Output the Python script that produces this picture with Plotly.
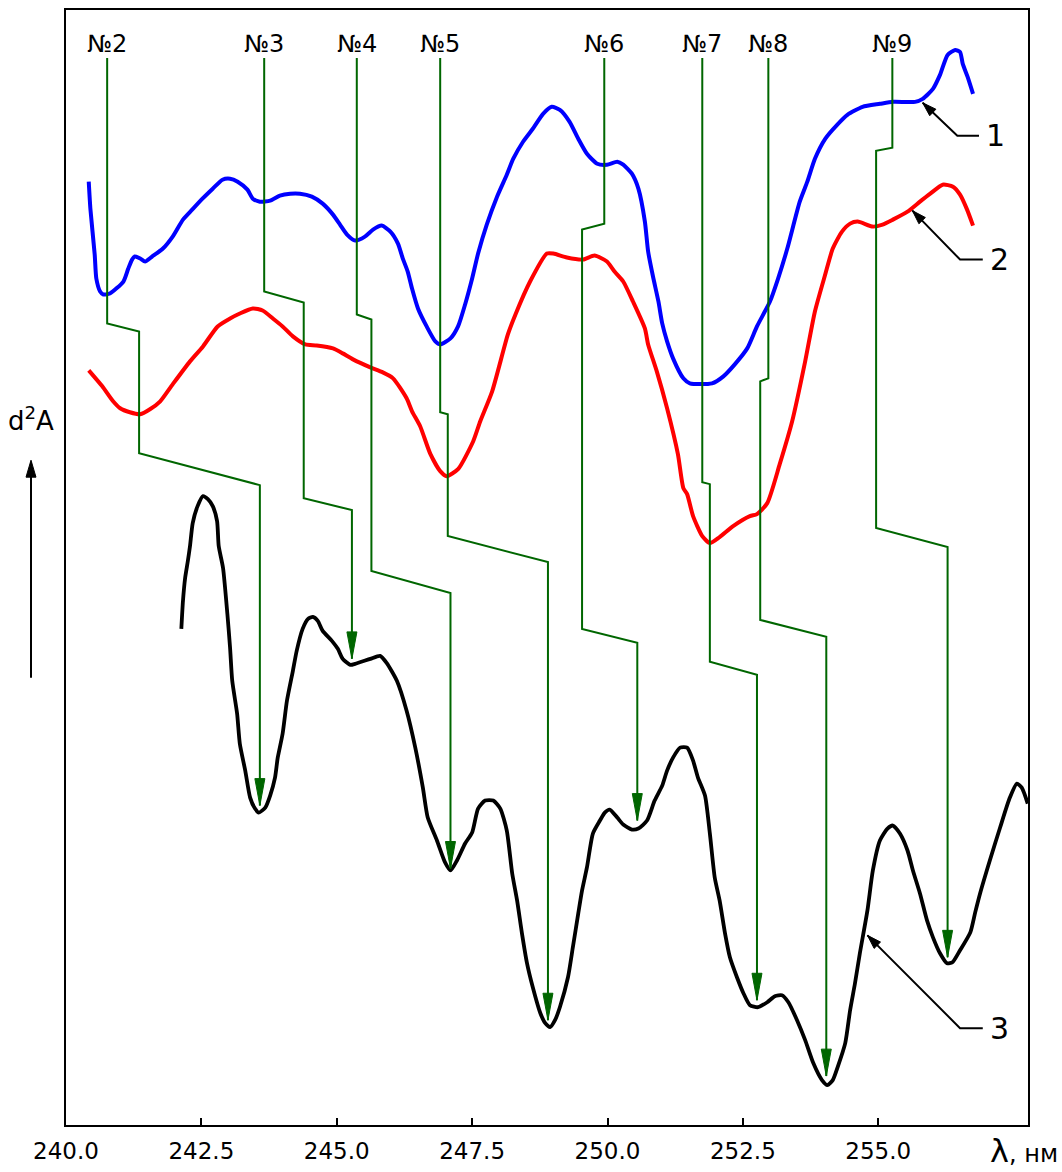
import plotly.graph_objects as go

# Axis extents: wavelength in nm, second derivative d2A in arbitrary units
X_MIN, X_MAX = 240.0, 257.765
Y_MIN, Y_MAX = 0, 1117

TICK_VALUES = [240.0, 242.5, 245.0, 247.5, 250.0, 252.5, 255.0]
TICK_LABELS = ["240.0", "242.5", "245.0", "247.5", "250.0", "252.5", "255.0"]

# Curve 1 (blue)
curve1_wl = [240.42, 240.45, 240.53, 240.56, 240.63, 240.69, 240.81, 241.06, 241.15, 241.22,
             241.27, 241.37, 241.46, 241.59, 241.79, 241.97, 242.16, 242.33, 242.52, 242.71,
             242.89, 243.03, 243.17, 243.35, 243.45, 243.58, 243.77, 243.95, 244.14, 244.32,
             244.54, 244.74, 244.93, 245.06, 245.19, 245.34, 245.52, 245.67, 245.83, 245.99,
             246.13, 246.22, 246.31, 246.39, 246.50, 246.66, 246.82, 246.91, 247.10, 247.24,
             247.37, 247.50, 247.61, 247.77, 247.96, 248.14, 248.26, 248.44, 248.62, 248.81,
             248.97, 249.12, 249.30, 249.46, 249.62, 249.81, 249.99, 250.18, 250.29, 250.45,
             250.57, 250.69, 250.75, 250.84, 250.94, 251.01, 251.10, 251.21, 251.40, 251.52,
             251.93, 252.14, 252.35, 252.58, 252.76, 253.00, 253.15, 253.32, 253.55, 253.69,
             253.83, 254.02, 254.24, 254.43, 254.71, 255.03, 255.27, 255.68, 255.82, 256.01,
             256.14, 256.28, 256.42, 256.51, 256.56, 256.65, 256.75]
curve1_d2a = [945, 918, 872, 848, 835, 832, 833, 845, 858, 867,
              870, 868, 865, 870, 878, 890, 907, 917, 928, 938,
              947, 948, 945, 937, 928, 925, 926, 931, 933, 933,
              930, 923, 912, 902, 892, 886, 890, 897, 901, 895,
              883, 868, 855, 838, 818, 800, 785, 782, 788, 800,
              822, 848, 873, 902, 930, 952, 968, 985, 998, 1013,
              1020, 1017, 1005, 988, 973, 963, 962, 965, 962, 953,
              938, 905, 875, 850, 825, 803, 785, 768, 748, 743,
              743, 750, 762, 778, 800, 825, 848, 878, 925, 945,
              968, 988, 1002, 1012, 1020, 1023, 1025, 1025, 1028, 1038,
              1052, 1072, 1077, 1075, 1063, 1050, 1033]

# Curve 2 (red)
curve2_wl = [240.42, 240.67, 240.87, 241.00, 241.18, 241.37, 241.55, 241.74, 241.97, 242.29,
             242.53, 242.80, 243.03, 243.21, 243.45, 243.63, 243.82, 244.00, 244.19, 244.42,
             244.63, 244.93, 245.11, 245.30, 245.62, 245.85, 246.04, 246.29, 246.39, 246.54,
             246.73, 246.91, 247.03, 247.24, 247.52, 247.65, 247.87, 248.16, 248.30, 248.57,
             248.88, 249.00, 249.25, 249.55, 249.76, 249.99, 250.13, 250.29, 250.47, 250.69,
             250.75, 250.91, 251.10, 251.30, 251.40, 251.47, 251.58, 251.75, 251.89, 252.07,
             252.32, 252.63, 252.76, 252.95, 253.18, 253.41, 253.65, 253.83, 254.02, 254.16,
             254.33, 254.48, 254.62, 254.90, 255.08, 255.27, 255.54, 255.77, 255.96, 256.19,
             256.38, 256.51, 256.64, 256.75]
curve2_d2a = [756, 740, 725, 718, 714, 712, 717, 725, 742, 765,
              780, 800, 808, 813, 818, 816, 808, 800, 790, 782,
              781, 778, 773, 767, 759, 754, 748, 728, 715, 700,
              672, 655, 650, 657, 685, 705, 735, 792, 812, 845,
              873, 873, 869, 867, 871, 865, 855, 845, 825, 798,
              782, 755, 718, 672, 638, 632, 610, 590, 583, 589,
              600, 610, 612, 623, 662, 705, 765, 815, 852, 878,
              895, 903, 905, 900, 902, 907, 915, 925, 933, 942,
              940, 932, 917, 901]

# Curve 3 (black)
curve3_wl = [242.13, 242.16, 242.20, 242.25, 242.29, 242.34, 242.43, 242.53, 242.62, 242.71,
             242.79, 242.82, 242.90, 242.98, 243.03, 243.07, 243.16, 243.21, 243.31, 243.40,
             243.49, 243.56, 243.68, 243.77, 243.86, 243.91, 244.00, 244.08, 244.19, 244.26,
             244.37, 244.47, 244.56, 244.65, 244.74, 244.91, 245.02, 245.11, 245.25, 245.34,
             245.62, 245.80, 245.92, 246.11, 246.29, 246.45, 246.59, 246.68, 246.85, 247.00,
             247.10, 247.22, 247.37, 247.50, 247.61, 247.74, 247.89, 248.02, 248.14, 248.24,
             248.33, 248.42, 248.51, 248.62, 248.76, 248.85, 248.94, 249.03, 249.12, 249.27,
             249.36, 249.46, 249.53, 249.62, 249.73, 249.86, 249.95, 250.04, 250.18, 250.29,
             250.45, 250.57, 250.73, 250.87, 251.01, 251.10, 251.21, 251.34, 251.47, 251.58,
             251.67, 251.80, 251.89, 251.98, 252.07, 252.17, 252.26, 252.39, 252.51, 252.63,
             252.78, 252.95, 253.09, 253.22, 253.34, 253.50, 253.65, 253.80, 253.96, 254.06,
             254.16, 254.25, 254.39, 254.48, 254.57, 254.66, 254.80, 254.90, 255.03, 255.17,
             255.27, 255.40, 255.54, 255.64, 255.77, 255.90, 256.01, 256.14, 256.27, 256.37,
             256.51, 256.70, 256.79, 256.88, 257.06, 257.25, 257.43, 257.56, 257.65, 257.76]
curve3_d2a = [497, 525, 548, 565, 580, 603, 620, 630, 627, 620,
              605, 580, 558, 512, 478, 445, 412, 382, 355, 328,
              317, 313, 318, 330, 348, 368, 392, 425, 455, 475,
              497, 507, 509, 505, 495, 485, 477, 467, 461, 462,
              467, 470, 463, 445, 415, 378, 338, 308, 285, 263,
              255, 265, 282, 293, 317, 325, 325, 317, 295, 252,
              225, 192, 163, 138, 112, 102, 98, 105, 118, 148,
              178, 212, 235, 258, 292, 305, 313, 316, 308, 301,
              296, 297, 305, 325, 340, 355, 368, 378, 378, 365,
              348, 330, 292, 248, 225, 192, 168, 148, 132, 120,
              118, 123, 129, 130, 123, 105, 85, 62, 45, 40,
              45, 58, 82, 115, 142, 172, 215, 255, 285, 297,
              300, 292, 275, 255, 232, 205, 188, 172, 162, 163,
              175, 193, 213, 232, 265, 298, 328, 342, 338, 322]

# Band markers: label and connector route from the label down to the band on curve 3
band_labels = ["№2", "№3", "№4", "№5", "№6", "№7", "№8", "№9"]
band_route_wl = [
    [240.76, 240.76, 241.35, 241.35, 243.58, 243.58],
    [243.66, 243.66, 244.39, 244.39, 245.28, 245.28],
    [245.37, 245.37, 245.64, 245.64, 247.10, 247.10],
    [246.91, 246.91, 247.05, 247.05, 248.90, 248.90],
    [249.94, 249.94, 249.53, 249.53, 250.55, 250.55],
    [251.75, 251.75, 251.89, 251.89, 252.76, 252.76],
    [252.97, 252.97, 252.82, 252.82, 254.04, 254.04],
    [255.26, 255.26, 254.96, 254.96, 256.28, 256.28],
]
band_route_d2a = [
    [1069, 803, 795, 673, 641, 320],
    [1069, 835, 824, 628, 616, 467],
    [1069, 812, 807, 555, 533, 257],
    [1069, 714, 712, 590, 564, 105],
    [1069, 903, 897, 497, 483, 305],
    [1069, 644, 642, 464, 451, 125],
    [1069, 748, 745, 506, 489, 49],
    [1069, 979, 976, 598, 579, 168],
]
BAND_LABEL_D2A = 1083

# Curve callouts: arrow tip on the curve, elbow, end of the leader, label
callout_labels = ["1", "2", "3"]
callout_tip_wl = [255.82, 255.63, 254.80]
callout_tip_d2a = [1024, 916, 190]
callout_knee_wl = [256.46, 256.51, 256.51]
callout_knee_d2a = [991, 867, 97]
callout_end_wl = [256.86, 256.93, 256.93]
callout_text_wl = [257.16, 257.24, 257.23]

# Plot geometry (pixels)
FIG_W, FIG_H = 1062, 1172
M_L, M_R, M_T, M_B = 66, 34, 8, 47
PLOT_W = FIG_W - M_L - M_R
PLOT_H = FIG_H - M_T - M_B
PX_X = PLOT_W / (X_MAX - X_MIN)
PX_Y = PLOT_H / (Y_MAX - Y_MIN)

GREEN = "#006600"
FONT = "DejaVu Sans, sans-serif"


def arrow_head(tip_x, tip_y, tail_x, tail_y, length, half_width, sx=PX_X, sy=PX_Y):
    """Filled triangle with its point at the tip, aligned with the tail->tip direction."""
    dx = (tail_x - tip_x) * sx
    dy = (tail_y - tip_y) * sy
    n = (dx * dx + dy * dy) ** 0.5
    ux, uy = dx / n, dy / n
    bx, by = ux * length, uy * length
    nx, ny = -uy * half_width, ux * half_width
    pts = [(0, 0), (bx + nx, by + ny), (bx - nx, by - ny), (0, 0)]
    return ([tip_x + a / sx for a, _ in pts], [tip_y + b / sy for _, b in pts])


fig = go.Figure()

curve_styles = [
    (curve1_wl, curve1_d2a, "#0000ff", 4),
    (curve2_wl, curve2_d2a, "#ff0000", 4),
    (curve3_wl, curve3_d2a, "#000000", 3.8),
]
for wl, val, color, width in curve_styles:
    fig.add_trace(go.Scatter(x=wl, y=val, mode="lines",
                             line=dict(color=color, width=width, shape="spline", smoothing=0.6),
                             hoverinfo="skip"))

annotations = []
for label, rwl, rval in zip(band_labels, band_route_wl, band_route_d2a):
    fig.add_trace(go.Scatter(x=rwl, y=rval, mode="lines",
                             line=dict(color=GREEN, width=2), hoverinfo="skip"))
    hx, hy = arrow_head(rwl[-1], rval[-1], rwl[-2], rval[-2], 27, 5)
    fig.add_trace(go.Scatter(x=hx, y=hy, mode="lines", fill="toself", fillcolor=GREEN,
                             line=dict(color=GREEN, width=1), hoverinfo="skip"))
    annotations.append(dict(x=rwl[0], y=BAND_LABEL_D2A, text=label, showarrow=False,
                            xanchor="center", yanchor="middle",
                            font=dict(family=FONT, size=24, color="black")))

for i, label in enumerate(callout_labels):
    lx = [callout_tip_wl[i], callout_knee_wl[i], callout_end_wl[i]]
    ly = [callout_tip_d2a[i], callout_knee_d2a[i], callout_knee_d2a[i]]
    fig.add_trace(go.Scatter(x=lx, y=ly, mode="lines",
                             line=dict(color="black", width=2), hoverinfo="skip"))
    hx, hy = arrow_head(lx[0], ly[0], lx[1], ly[1], 14, 4.5)
    fig.add_trace(go.Scatter(x=hx, y=hy, mode="lines", fill="toself", fillcolor="black",
                             line=dict(color="black", width=1), hoverinfo="skip"))
    annotations.append(dict(x=callout_text_wl[i], y=callout_knee_d2a[i], text=label,
                            showarrow=False, xanchor="center", yanchor="middle",
                            font=dict(family=FONT, size=30, color="black")))

# Y-axis caption with an upward arrow, placed left of the frame (paper coordinates)
cap_x = (31 - M_L) / PLOT_W
arrow_top = (FIG_H - M_B - 459) / PLOT_H
arrow_bottom = (FIG_H - M_B - 677) / PLOT_H
annotations.append(dict(xref="paper", yref="paper", x=cap_x, y=(FIG_H - M_B - 418) / PLOT_H,
                        text="d<sup>2</sup>A", showarrow=False, xanchor="center", yanchor="middle",
                        font=dict(family=FONT, size=26, color="black")))
hx, hy = arrow_head(cap_x, arrow_top, cap_x, arrow_bottom, 17, 5, sx=PLOT_W, sy=PLOT_H)
shapes = [
    dict(type="line", xref="paper", yref="paper", x0=cap_x, x1=cap_x,
         y0=arrow_bottom, y1=arrow_top - 2 / PLOT_H, line=dict(color="black", width=2)),
    dict(type="path", xref="paper", yref="paper", fillcolor="black",
         line=dict(color="black", width=1),
         path="M{:.5f},{:.5f} L{:.5f},{:.5f} L{:.5f},{:.5f} Z".format(hx[0], hy[0], hx[1], hy[1],
                                                                      hx[2], hy[2])),
]

# X-axis caption
annotations.append(dict(xref="paper", yref="paper", x=(988 - M_L) / PLOT_W,
                        y=-(1151 - (FIG_H - M_B)) / PLOT_H,
                        text='<span style="font-size:32px">λ</span>, нм', showarrow=False,
                        xanchor="left", yanchor="middle",
                        font=dict(family=FONT, size=24, color="black")))

fig.update_layout(
    width=FIG_W, height=FIG_H, autosize=False,
    margin=dict(l=M_L, r=M_R, t=M_T, b=M_B),
    paper_bgcolor="white", plot_bgcolor="white",
    showlegend=False,
    annotations=annotations,
    shapes=shapes,
    xaxis=dict(range=[X_MIN, X_MAX], tickvals=TICK_VALUES, ticktext=TICK_LABELS,
               ticks="inside", ticklen=7, tickwidth=2, tickcolor="black",
               ticklabelstandoff=4,
               showline=True, linecolor="black", linewidth=2, mirror=True,
               showgrid=False, zeroline=False,
               tickfont=dict(family=FONT, size=23, color="black")),
    yaxis=dict(range=[Y_MIN, Y_MAX], showticklabels=False, ticks="",
               showline=True, linecolor="black", linewidth=2, mirror=True,
               showgrid=False, zeroline=False),
)

fig.write_html("out.html")
